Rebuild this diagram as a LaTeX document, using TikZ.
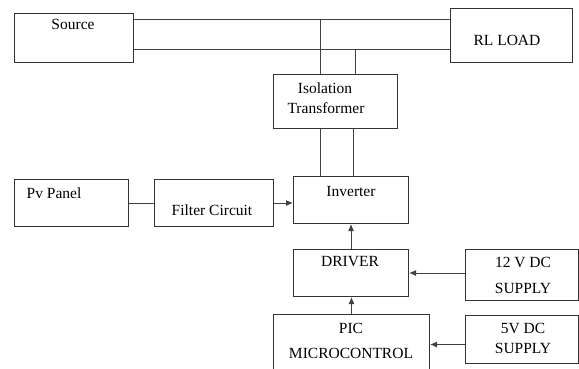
\documentclass[tikz,border=0pt]{standalone}
\usepackage{fontspec}
\setmainfont{Liberation Serif}
\usetikzlibrary{arrows.meta}
\begin{document}
\begin{tikzpicture}[x=1pt,y=-1pt,
  box/.style={draw=black!80,line width=1pt,inner sep=0pt,anchor=north west},
  lbl/.style={inner sep=0pt,font=\fontsize{15.5}{18}\selectfont,text=black},
  wire/.style={draw=black!75,line width=1pt},
  arr/.style={wire,-{Latex[length=7pt,width=6pt]}}]
\useasboundingbox[fill=white] (0,0) rectangle (579,368);
% boxes
\node[box,minimum width=119pt,minimum height=49pt] (src) at (14,13) {};
\node[box,minimum width=122pt,minimum height=54pt] (load) at (450,8) {};
\node[box,minimum width=124pt,minimum height=54pt] (iso) at (273,74) {};
\node[box,minimum width=115pt,minimum height=47pt] (inv) at (293,176) {};
\node[box,minimum width=114pt,minimum height=47pt] (pv) at (14,179) {};
\node[box,minimum width=119pt,minimum height=47pt] (filt) at (154,179) {};
\node[box,minimum width=115pt,minimum height=47pt] (drv) at (293,249) {};
\node[box,minimum width=113pt,minimum height=51pt] (s12) at (465,249) {};
\node[box,minimum width=156pt,minimum height=60pt] (pic) at (273,314) {};
\node[box,minimum width=113pt,minimum height=48pt] (s5) at (465,315) {};
% labels
\node[lbl] at (73,24) {Source};
\node[lbl] at (507,40) {RL LOAD};
\node[lbl] at (325,88) {Isolation};
\node[lbl] at (326,108) {Transformer};
\node[lbl] at (351,191) {Inverter};
\node[lbl] at (54,193) {Pv Panel};
\node[lbl] at (212,210) {Filter Circuit};
\node[lbl] at (350,262) {DRIVER};
\node[lbl] at (523,262) {12 V DC};
\node[lbl] at (523,288) {SUPPLY};
\node[lbl] at (351,328) {PIC};
\node[lbl] at (351,353) {MICROCONTROL};
\node[lbl] at (523,328) {5V DC};
\node[lbl] at (523,348) {SUPPLY};
% bus coordinates
\coordinate (b1) at (320,19);
\coordinate (b2) at (355,49);
\coordinate (t1) at (320,0);
\coordinate (t2) at (353,0);
% connectors
\draw[wire] (src.east |- b1) -- (load.west |- b1);
\draw[wire] (src.east |- b2) -- (load.west |- b2);
\draw[wire] (b1) -- (b1 |- iso.north);
\draw[wire] (b2) -- (b2 |- iso.north);
\draw[wire] (t1 |- iso.south) -- (t1 |- inv.north);
\draw[wire] (t2 |- iso.south) -- (t2 |- inv.north);
\draw[wire] (pv.east) -- (filt.west);
\draw[arr] (filt.east) -- (filt.east -| inv.west);
\draw[arr] (drv.north) -- (inv.south);
\draw[arr] (pic.north) -- (pic.north |- drv.south);
\draw[arr] (s12.west |- drv.east) -- (drv.east);
\draw[arr] (s5.west |- pic.east) -- (pic.east);
\end{tikzpicture}
\end{document}
